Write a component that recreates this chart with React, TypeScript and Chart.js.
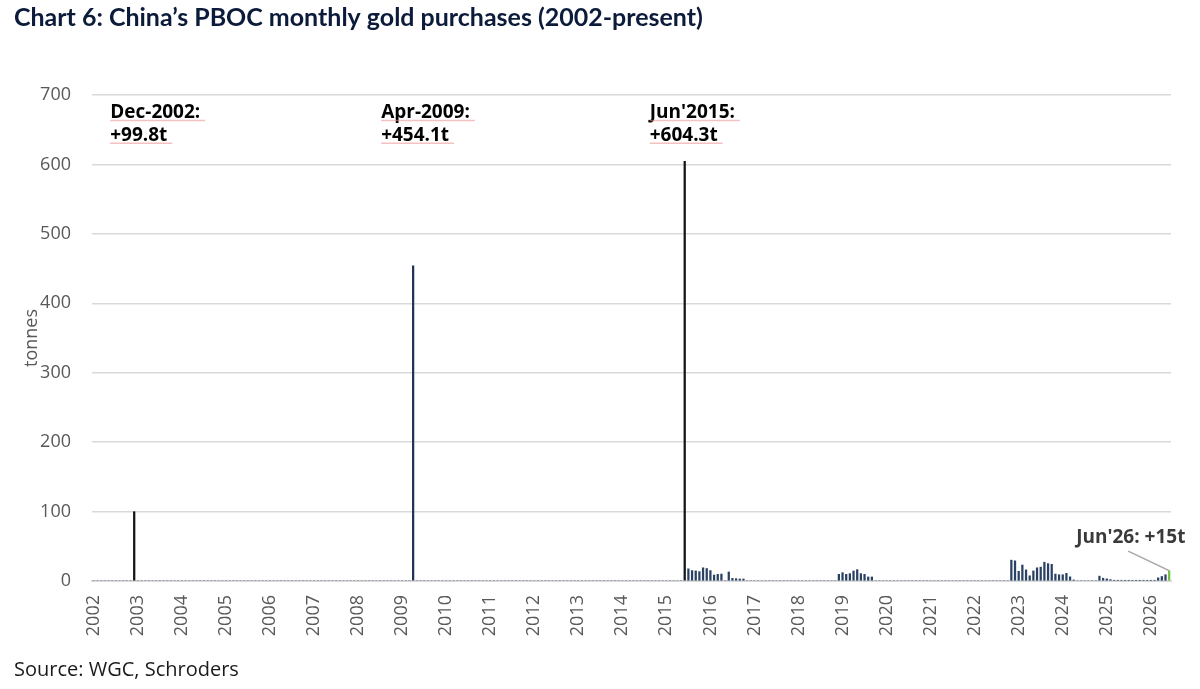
import React, { useEffect, useRef } from "react";
import { Chart, registerables } from "chart.js";

Chart.register(...registerables);

// ---- Data (tonnes, monthly net purchases) ----
const FIRST_YEAR = 2002;
const LAST_YEAR = 2026;
const LAST_MONTH = 6; // data runs to Jun 2026

const dec2002 = [99.8]; // starts 2002-12
const apr2009 = [454.1]; // starts 2009-04
const jun2015ToOct2016 = [604.3, 17.5, 15.0, 14.5, 13.5, 19.0, 18.0, 15.0, 8.6, 9.6, 10.0, 0, 13.0, 3.8, 3.4, 2.9, 2.9];
const dec2018ToSep2019 = [9.6, 12.0, 9.6, 10.6, 14.4, 16.3, 10.6, 9.6, 5.8, 5.8];
const nov2022ToApr2024 = [30, 29, 14, 23, 16, 7.5, 14.5, 19, 20, 27, 25, 24, 10, 9, 9, 11, 6, 1.5];
const nov2024ToJun2026 = [7, 4, 3, 2, 1, 1, 1, 1, 1, 1, 1, 1, 1, 1, 1, 1, 4.5, 6.5, 9, 15];

const clusters: [string, number[]][] = [
  ["2002-12", dec2002],
  ["2009-04", apr2009],
  ["2015-06", jun2015ToOct2016],
  ["2018-12", dec2018ToSep2019],
  ["2022-11", nov2022ToApr2024],
  ["2024-11", nov2024ToJun2026],
];

const yTicks = [0, 100, 200, 300, 400, 500, 600, 700];

const TITLE = "Chart 6: China’s PBOC monthly gold purchases (2002-present)";
const SOURCE = "Source: WGC, Schroders";

const notes = [
  { key: "2002-12", lines: ["Dec-2002:", "+99.8t"], dx: -24 },
  { key: "2009-04", lines: ["Apr-2009:", "+454.1t"], dx: -32 },
  { key: "2015-06", lines: ["Jun'2015:", "+604.3t"], dx: -35 },
];
const lastNote = { key: "2026-06", text: "Jun'26: +15t" };

// ---- build monthly table ----
const pad = (n: number) => (n < 10 ? "0" + n : "" + n);
const monthKeys: string[] = [];
for (let y = FIRST_YEAR; y <= LAST_YEAR; y++) {
  for (let m = 1; m <= 12; m++) {
    if (y === LAST_YEAR && m > LAST_MONTH) break;
    monthKeys.push(`${y}-${pad(m)}`);
  }
}
const values: number[] = monthKeys.map(() => 0);
clusters.forEach(([start, arr]) => {
  const i0 = monthKeys.indexOf(start);
  arr.forEach((v, k) => {
    values[i0 + k] = v;
  });
});

const NAVY = "#2a4163";
const colors = monthKeys.map((k) => {
  if (k === "2002-12" || k === "2015-06") return "#141414";
  if (k === "2009-04") return "#1f3458";
  if (k === lastNote.key) return "#74c244";
  return NAVY;
});

const FONT = "'Open Sans', 'Noto Sans', sans-serif";

const overlayPlugin = {
  id: "overlay",
  afterDraw(chart: any) {
    const ctx = chart.ctx as CanvasRenderingContext2D;
    const xs = chart.scales.x;
    const ys = chart.scales.y;
    ctx.save();

    // Title (fit to reference width)
    let size = 23;
    ctx.font = `bold ${size}px Lato, ${FONT}`;
    const w = ctx.measureText(TITLE).width;
    size = Math.max(18, Math.min(26, (size * 689) / w));
    ctx.font = `bold ${size}px Lato, ${FONT}`;
    ctx.fillStyle = "#0c1b3a";
    ctx.textAlign = "left";
    ctx.textBaseline = "alphabetic";
    ctx.fillText(TITLE, 14, 26);

    // Source
    ctx.font = `20px ${FONT}`;
    ctx.fillStyle = "#1a1a1a";
    ctx.fillText(SOURCE, 14, 676);

    // Annotations
    ctx.font = `bold 19px ${FONT}`;
    notes.forEach((n) => {
      const x = xs.getPixelForValue(monthKeys.indexOf(n.key)) + n.dx;
      const base1 = ys.getPixelForValue(667);
      const base2 = ys.getPixelForValue(634);
      [base1, base2].forEach((b, i) => {
        ctx.fillStyle = "#000";
        ctx.fillText(n.lines[i], x, b);
        const uw = ctx.measureText(n.lines[i] + " ").width;
        ctx.strokeStyle = "rgba(235,140,140,0.55)";
        ctx.lineWidth = 1.5;
        ctx.beginPath();
        ctx.moveTo(x, b + 2.5);
        ctx.lineTo(x + uw, b + 2.5);
        ctx.stroke();
      });
    });

    // Last annotation + connector
    const li = monthKeys.indexOf(lastNote.key);
    const bx = xs.getPixelForValue(li);
    const by = ys.getPixelForValue(values[li]);
    ctx.fillStyle = "#3a3a3a";
    ctx.fillText(lastNote.text, bx - 93, ys.getPixelForValue(55));
    ctx.strokeStyle = "#a6a6a6";
    ctx.lineWidth = 1.5;
    ctx.beginPath();
    ctx.moveTo(bx - 41, ys.getPixelForValue(43));
    ctx.lineTo(bx, by);
    ctx.stroke();

    ctx.restore();
  },
};

export default function App() {
  const ref = useRef<HTMLCanvasElement | null>(null);
  useEffect(() => {
    if (!ref.current) return;
    const chart = new Chart(ref.current, {
      type: "bar",
      data: {
        labels: monthKeys,
        datasets: [
          {
            data: values,
            backgroundColor: colors,
            barThickness: 1.6,
            borderWidth: 0,
          },
        ],
      },
      options: {
        responsive: false,
        animation: false,
        layout: { padding: { top: 95, right: 29, bottom: 48, left: 0 } },
        plugins: {
          legend: { display: false },
          tooltip: { enabled: false },
          title: { display: false },
        },
        scales: {
          x: {
            type: "category",
            offset: true,
            grid: { display: false, drawTicks: false },
            border: { display: true, color: "#d9d9d9", width: 2 },
            ticks: {
              autoSkip: false,
              minRotation: 90,
              maxRotation: 90,
              padding: 14,
              color: "#595959",
              font: { family: FONT, size: 18 },
              callback: (_v: any, i: number) =>
                monthKeys[i].endsWith("-01") ? monthKeys[i].slice(0, 4) : "",
            },
            afterFit: (s: any) => {
              s.height = 60;
              s.paddingLeft = 0;
              s.paddingRight = 0;
            },
          },
          y: {
            min: yTicks[0],
            max: yTicks[yTicks.length - 1],
            afterBuildTicks: (s: any) => {
              s.ticks = yTicks.map((v) => ({ value: v }));
            },
            grid: { color: "#d9d9d9", lineWidth: 1.5, drawTicks: false },
            border: { display: false },
            ticks: {
              padding: 21,
              color: "#595959",
              font: { family: FONT, size: 18 },
            },
            title: {
              display: true,
              text: "tonnes",
              color: "#595959",
              font: { family: FONT, size: 18 },
              padding: { top: 21, bottom: 0 },
            },
            afterFit: (s: any) => {
              s.width = 92;
            },
          },
        },
      },
      plugins: [overlayPlugin],
    } as any);
    return () => chart.destroy();
  }, []);

  return (
    <div style={{ position: "absolute", left: 0, top: 0, width: 1200, height: 689, background: "#fff" }}>
      <canvas ref={ref} width={1200} height={689} style={{ display: "block" }} />
    </div>
  );
}
